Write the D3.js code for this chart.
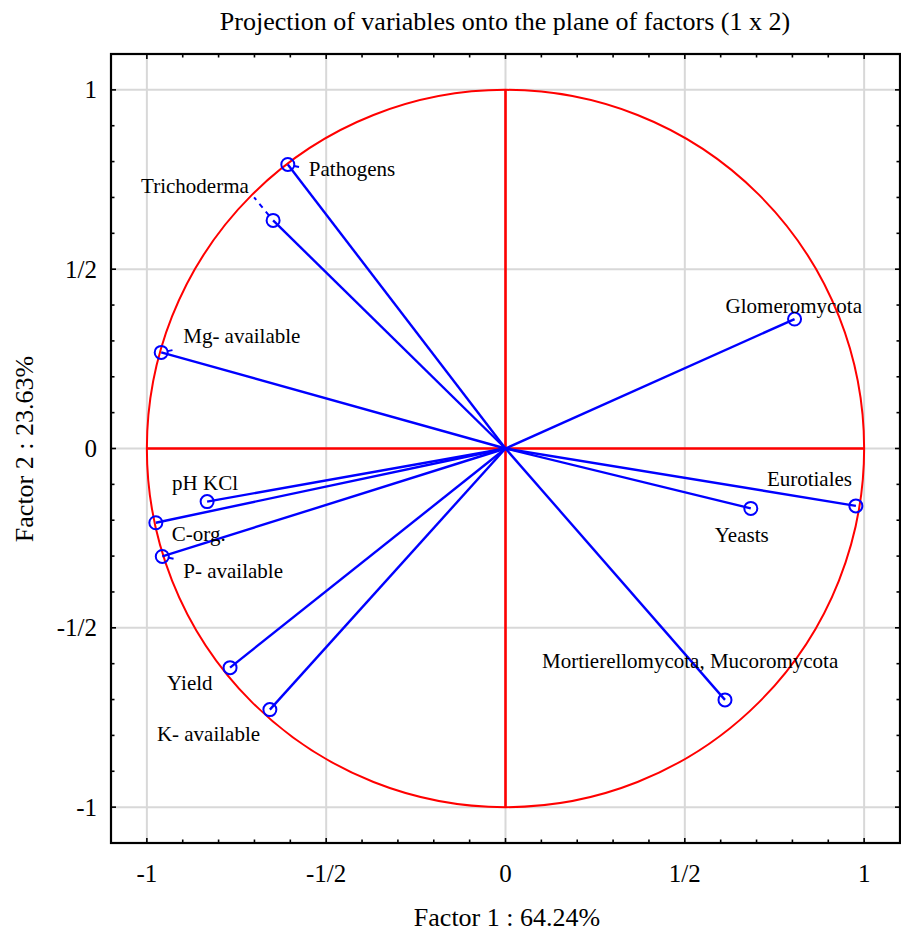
<!DOCTYPE html>
<html>
<head>
<meta charset="utf-8">
<script src="https://cdn.jsdelivr.net/npm/d3@7"></script>
<style>
  body { margin: 0; background: #fff; }
  svg { display: block; font-family: "Liberation Serif", "Times New Roman", serif; }
</style>
</head>
<body>
<svg id="chart" width="901" height="933"></svg>
<script>
// Variable loadings on factor 1 and factor 2
const variables = ["Pathogens", "Trichoderma", "Mg- available", "Glomeromycota",
  "pH KCl", "C-org.", "P- available", "Yield", "K- available",
  "Mortierellomycota, Mucoromycota", "Yeasts", "Eurotiales"];
const factor1 = [-0.607, -0.648, -0.960, 0.806, -0.832, -0.975, -0.957, -0.768, -0.657, 0.612, 0.684, 0.977];
const factor2 = [0.792, 0.636, 0.268, 0.361, -0.148, -0.207, -0.301, -0.611, -0.728, -0.701, -0.167, -0.160];

const tickValues = [-1, -0.5, 0, 0.5, 1];
const tickLabels = ["-1", "-1/2", "0", "1/2", "1"];
const minorTicks = d3.range(-10, 11).map(i => i / 10);

const titleText = "Projection of variables onto the plane of factors (1 x 2)";
const xTitle = "Factor 1 : 64.24%";
const yTitle = "Factor 2 : 23.63%";

// Label placement: offset of label start (x, baseline) from the point, in px,
// plus optional dashed leader end (offset from the point).
const labelLayout = {
  "Pathogens": { dx: 21, dy: 12, leader: [13, 3] },
  "Trichoderma": { dx: -132, dy: -27, leader: [-19, -23] },
  "Mg- available": { dx: 22, dy: -9, leader: [15, -3] },
  "Glomeromycota": { dx: -69, dy: -6 },
  "pH KCl": { dx: -35, dy: -12 },
  "C-org.": { dx: 16, dy: 18 },
  "P- available": { dx: 21, dy: 22, leader: [15, 3] },
  "Yield": { dx: -63, dy: 22 },
  "K- available": { dx: -113, dy: 31 },
  "Mortierellomycota, Mucoromycota": { dx: -183, dy: -32 },
  "Yeasts": { dx: -36, dy: 34 },
  "Eurotiales": { dx: -89, dy: -20 }
};

const svg = d3.select("#chart");
const plot = { left: 111, right: 900, top: 54, bottom: 843 };
const x = d3.scaleLinear().domain([-1.1, 1.1]).range([plot.left, plot.right]);
const y = d3.scaleLinear().domain([-1.1, 1.1]).range([plot.bottom, plot.top]);

const blue = "#0000ff", red = "#ff0000";

// Grid lines at the major ticks
const grid = svg.append("g");
tickValues.forEach(v => {
  grid.append("line").attr("x1", x(v)).attr("x2", x(v)).attr("y1", plot.top).attr("y2", plot.bottom)
    .attr("stroke", "#d8d8d8").attr("stroke-width", 2);
  grid.append("line").attr("y1", y(v)).attr("y2", y(v)).attr("x1", plot.left).attr("x2", plot.right)
    .attr("stroke", "#d8d8d8").attr("stroke-width", 2);
});

// Unit circle and red axes through the origin
svg.append("circle").attr("cx", x(0)).attr("cy", y(0)).attr("r", x(1) - x(0))
  .attr("fill", "none").attr("stroke", red).attr("stroke-width", 2);
svg.append("line").attr("x1", x(0)).attr("x2", x(0)).attr("y1", y(1)).attr("y2", y(-1))
  .attr("stroke", red).attr("stroke-width", 2.6);
svg.append("line").attr("x1", x(-1)).attr("x2", x(1)).attr("y1", y(0)).attr("y2", y(0))
  .attr("stroke", red).attr("stroke-width", 2.6);

// Frame with inward ticks on all sides
const frame = svg.append("g").attr("stroke", "#000").attr("stroke-width", 1.6);
const isMajor = v => Math.abs(v * 2 - Math.round(v * 2)) < 1e-9;
minorTicks.forEach(v => {
  const len = isMajor(v) ? 5 : 3.5;
  frame.append("line").attr("x1", x(v)).attr("x2", x(v)).attr("y1", plot.bottom).attr("y2", plot.bottom - len);
  frame.append("line").attr("x1", x(v)).attr("x2", x(v)).attr("y1", plot.top).attr("y2", plot.top + len);
  frame.append("line").attr("y1", y(v)).attr("y2", y(v)).attr("x1", plot.left).attr("x2", plot.left + len);
  frame.append("line").attr("y1", y(v)).attr("y2", y(v)).attr("x1", plot.right).attr("x2", plot.right - len);
});
svg.append("rect").attr("x", plot.left).attr("y", plot.top)
  .attr("width", plot.right - plot.left).attr("height", plot.bottom - plot.top)
  .attr("fill", "none").attr("stroke", "#000").attr("stroke-width", 2.2);

// Tick labels
const axisLabels = svg.append("g").attr("font-size", 25).attr("fill", "#000");
tickValues.forEach((v, i) => {
  axisLabels.append("text").attr("x", x(v)).attr("y", 882).attr("text-anchor", "middle").text(tickLabels[i]);
  axisLabels.append("text").attr("x", 97).attr("y", y(v) + 8.5).attr("text-anchor", "end").text(tickLabels[i]);
});

// Vectors from the origin to each variable
const data = variables.map((name, i) => ({ name, f1: factor1[i], f2: factor2[i] }));
const vec = svg.append("g");
vec.selectAll("line.vec").data(data).join("line").attr("class", "vec")
  .attr("x1", x(0)).attr("y1", y(0))
  .attr("x2", d => x(d.f1)).attr("y2", d => y(d.f2))
  .attr("stroke", blue).attr("stroke-width", 2.4);

// Dashed leader lines from markers to labels
const r = 6.5;
vec.selectAll("line.leader").data(data.filter(d => labelLayout[d.name].leader)).join("line")
  .attr("class", "leader")
  .each(function (d) {
    const [ex, ey] = labelLayout[d.name].leader;
    const len = Math.hypot(ex, ey);
    d3.select(this)
      .attr("x1", x(d.f1) + ex / len * r).attr("y1", y(d.f2) + ey / len * r)
      .attr("x2", x(d.f1) + ex).attr("y2", y(d.f2) + ey);
  })
  .attr("stroke", blue).attr("stroke-width", 2).attr("stroke-dasharray", "5,5");

// Circle markers
vec.selectAll("circle").data(data).join("circle")
  .attr("cx", d => x(d.f1)).attr("cy", d => y(d.f2)).attr("r", r)
  .attr("fill", "none").attr("stroke", blue).attr("stroke-width", 2);

// Variable labels
svg.append("g").attr("font-size", 21).attr("fill", "#000")
  .selectAll("text").data(data).join("text")
  .attr("x", d => x(d.f1) + labelLayout[d.name].dx)
  .attr("y", d => y(d.f2) + labelLayout[d.name].dy)
  .text(d => d.name);

// Titles
svg.append("text").attr("x", 505).attr("y", 30).attr("text-anchor", "middle")
  .attr("font-size", 26).text(titleText);
svg.append("text").attr("x", 507).attr("y", 926).attr("text-anchor", "middle")
  .attr("font-size", 26).text(xTitle);
svg.append("text").attr("transform", "translate(33,449) rotate(-90)").attr("text-anchor", "middle")
  .attr("font-size", 26).text(yTitle);
</script>
</body>
</html>
